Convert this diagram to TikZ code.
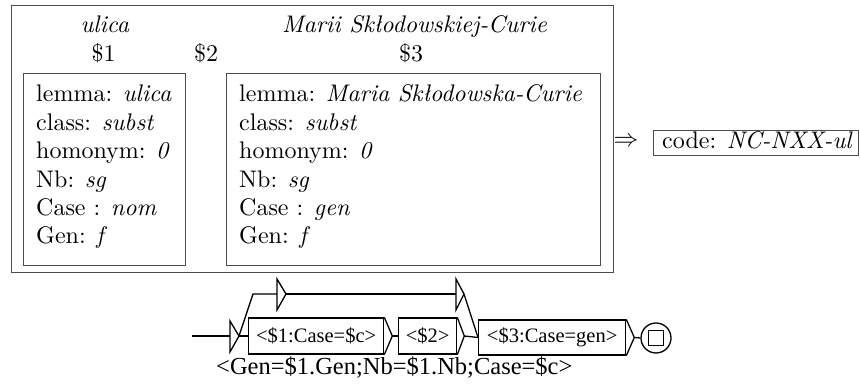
\documentclass[tikz,border=0pt]{standalone}
\usepackage{fontspec}
\setmainfont{lmroman10-regular.otf}[ItalicFont=lmroman10-italic.otf]
\newfontfamily\graphfont{Liberation Serif}
\begin{document}
\begin{tikzpicture}[x=1pt,y=-1pt,
  frame/.style={draw=black!70, line width=1pt, inner sep=0pt},
  lex/.style={font=\fontsize{24}{28}\selectfont, inner sep=0pt},
  attr/.style={lex, anchor=base west},
  gbox/.style={draw, line width=1.3pt, minimum height=36pt, inner sep=0pt,
    anchor=west, font=\graphfont\fontsize{20.5}{24}\selectfont},
  gline/.style={line width=1.3pt},
]
\useasboundingbox (0,0) rectangle (860,387);

% ---- analysed sequence and its lexical entries
\node[frame, minimum width=602pt, minimum height=267pt, anchor=north west] (outer) at (11,5) {};
\node[frame, minimum width=162pt, minimum height=192pt, anchor=north west] (entA) at (23,73) {};
\node[frame, minimum width=374pt, minimum height=192pt, anchor=north west] (entB) at (226,73) {};

\node[lex, anchor=base] (w1) at (105,33) {\textit{ulica}};
\node[lex, anchor=base] (v1) at (103.5,62) {\$1};
\node[lex, anchor=base] (v2) at (206,62) {\$2};
\node[lex, anchor=base] (w3) at (414.5,33) {\textit{Marii Skłodowskiej-Curie}};
\node[lex, anchor=base] (v3) at (411,62) {\$3};

\foreach \t [count=\i from 0] in {lemma: \textit{ulica}, class: \textit{subst},
    homonym: \textit{0}, Nb: \textit{sg}, Case : \textit{nom}, Gen: \textit{f}}
  \node[attr] (a\i) at (36,{102+28.4*\i}) {\t};
\foreach \t [count=\i from 0] in {lemma: \textit{Maria Skłodowska-Curie}, class: \textit{subst},
    homonym: \textit{0}, Nb: \textit{sg}, Case : \textit{gen}, Gen: \textit{f}}
  \node[attr] (b\i) at (239,{102+28.4*\i}) {\t};

% ---- resulting code
\node[lex] (imp) at (626,142) {$\Rightarrow$};
\node[frame, minimum width=205pt, minimum height=25pt, anchor=north west] (code) at (653,130) {};
\node[attr] (codetxt) at (662,149) {code: \textit{NC-NXX-ul}};

% ---- local grammar
\coordinate (start) at (192,336);
\coordinate (init) at (230,336);
\coordinate (initout) at (239,336);
\node[gbox, minimum width=135pt] (g1) at (248,336) {<\$1:Case=\$c>};
\node[gbox, minimum width=58pt] (g2) at (398,336) {<\$2>};
\node[gbox, minimum width=147pt, minimum height=35pt] (g3) at (478,337.5) {<\$3:Case=gen>};
\node[circle, draw, line width=1.3pt, minimum size=30pt, inner sep=0pt] (fin) at (656,338) {};
\node[draw, line width=1.3pt, minimum size=15pt, inner sep=0pt] (finsq) at (fin.center) {};

\coordinate (e1in) at (253,294);
\coordinate (e1) at (277,294);
\coordinate (e1out) at (286,294);
\coordinate (e2) at (456,294);
\coordinate (e2out) at (464,294);

\draw[gline] (start) -- (init);
\draw[gline, line join=miter] ([yshift=15pt]init) -- (initout) -- ([yshift=-16pt]init) -- cycle;
\draw[gline] (initout) -- (g1.west);
\draw[gline] (initout) -- (e1in) -- (e1);
\draw[gline] ([yshift=15pt]e1) -- (e1out) -- ([yshift=-16pt]e1) -- cycle;
\draw[gline] (e1out) -- (e2);
\draw[gline] ([yshift=15pt]e2) -- (e2out) -- ([yshift=-16pt]e2) -- cycle;
\draw[gline] (e2out) -- (g3.west);

\draw[gline] (g1.north east) -- ([xshift=8pt]g1.east) -- (g1.south east);
\draw[gline] ([xshift=8pt]g1.east) -- (g2.west);
\draw[gline] (g2.north east) -- ([xshift=7pt]g2.east) -- (g2.south east);
\draw[gline] ([xshift=7pt]g2.east) -- (g3.west);
\draw[gline] (g3.north east) -- ([xshift=8pt]g3.east) -- (g3.south east);
\draw[gline] ([xshift=8pt]g3.east) -- (fin.west);

\node[anchor=base west, inner sep=0pt, font=\graphfont\fontsize{24.5}{28}\selectfont]
  (out) at (216,375) {<Gen=\$1.Gen;Nb=\$1.Nb;Case=\$c>};
\end{tikzpicture}
\end{document}
